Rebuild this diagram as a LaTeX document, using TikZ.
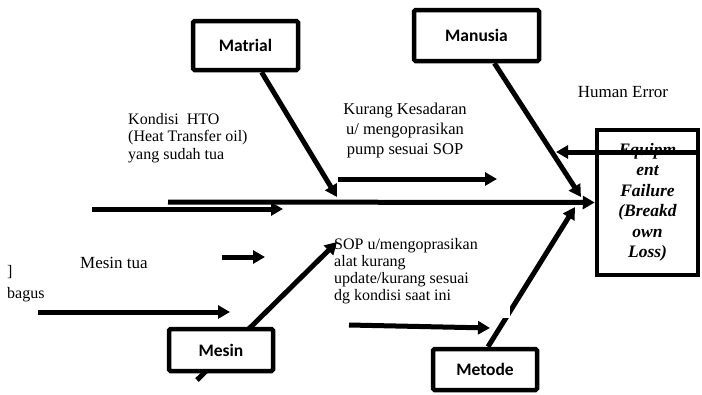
\documentclass[tikz,border=0pt]{standalone}
\usepackage{fontspec}
\setmainfont{Liberation Serif}
\newfontfamily\carlito{Carlito}
\usetikzlibrary{arrows.meta}
\tikzset{
  catbox/.style={draw, line width=4.5pt, fill=white, rounded corners=1.5pt, inner sep=0pt,
    font=\carlito\bfseries\fontsize{17.5}{20}\selectfont},
  bigarrow/.style={line width=5pt, -{Triangle[length=12pt,width=13pt]}},
  txt/.style={inner sep=0pt, font=\fontsize{16.5}{20}\selectfont},
  smalltxt/.style={inner sep=0pt, font=\fontsize{16}{17}\selectfont},
  effectbox/.style={draw, line width=4.5pt, inner sep=0pt, align=center,
    font=\bfseries\itshape\fontsize{17.5}{20.5}\selectfont}
}
\begin{document}
\begin{tikzpicture}[x=1pt,y=-1pt]
\useasboundingbox (0,0) rectangle (702,394);

% effect box
\node[effectbox, minimum width=101pt, minimum height=145pt] (effect) at (647.5,202.5)
  {Equipm\\ent\\Failure\\(Breakd\\own\\Loss)};

% coordinates
\coordinate (sp0) at (168,202);
\coordinate (low0) at (92,209);
\coordinate (low1) at (283,209);
\coordinate (mattip) at (337,197);
\coordinate (mantip) at (581,197);
\coordinate (kur0) at (338,179);
\coordinate (kur1) at (497,179);
\coordinate (he0) at (697,152);
\coordinate (he1) at (556,152);
\coordinate (mt0) at (222,257);
\coordinate (mt1) at (265,257);
\coordinate (bg0) at (38,312);
\coordinate (bg1) at (230,312);
\coordinate (mstail) at (197,380);
\coordinate (mstip) at (337,242);
\coordinate (sop0) at (349,325);
\coordinate (sop1) at (490,328);
\coordinate (metip) at (575,207);

% spine
\draw[bigarrow] (sp0) -- (effect.west);
\draw[bigarrow] (low0) -- (low1);

% category boxes
\node[catbox, minimum width=105pt, minimum height=49pt] (matrial) at (245.5,45.5) {Matrial};
\node[catbox, minimum width=125pt, minimum height=51pt] (manusia) at (476.5,35.5) {Manusia};

\draw[bigarrow] (matrial) -- (mattip);
\draw[bigarrow] (manusia) -- (mantip);
\draw[bigarrow] (kur0) -- (kur1);

\draw[bigarrow] (mstail) -- (mstip);
\node[catbox, minimum width=104pt, minimum height=42pt] (mesin) at (221,350) {Mesin};
\node[catbox, minimum width=104pt, minimum height=41pt] (metode) at (485,369.5) {Metode};
\draw[bigarrow] ([xshift=3pt]metode.north) -- (metip);
\fill[white] (503,303) rectangle (510,318);

\draw[bigarrow] (sop0) -- (sop1);
\draw[bigarrow] (mt0) -- (mt1);
\draw[bigarrow] (bg0) -- (bg1);
\draw[bigarrow] (he0) -- (he1);

% texts
\node[smalltxt, align=left, anchor=west, font=\fontsize{16}{17.5}\selectfont] (kondisi) at (128,138)
  {Kondisi\ \ HTO\\(Heat Transfer oil)\\yang sudah tua};
\node[txt, align=center] (kurang) at (405,131)
  {Kurang Kesadaran\\u/ mengoprasikan\\pump sesuai SOP};
\node[txt, font=\fontsize{17}{20}\selectfont] (human) at (623,92) {Human Error};
\node[smalltxt, align=left, anchor=west] (sop) at (334,271)
  {SOP u/mengoprasikan\\alat kurang\\update/kurang sesuai\\dg kondisi saat ini};
\node[txt, font=\fontsize{17}{20}\selectfont, anchor=west] (mesintua) at (80,263) {Mesin tua};
\node[txt, font=\fontsize{16}{19}\selectfont, anchor=base west] (brk) at (7,276) {]};
\node[txt, font=\fontsize{16}{19}\selectfont, anchor=base west] (bagus) at (7,298) {bagus};
\end{tikzpicture}
\end{document}
